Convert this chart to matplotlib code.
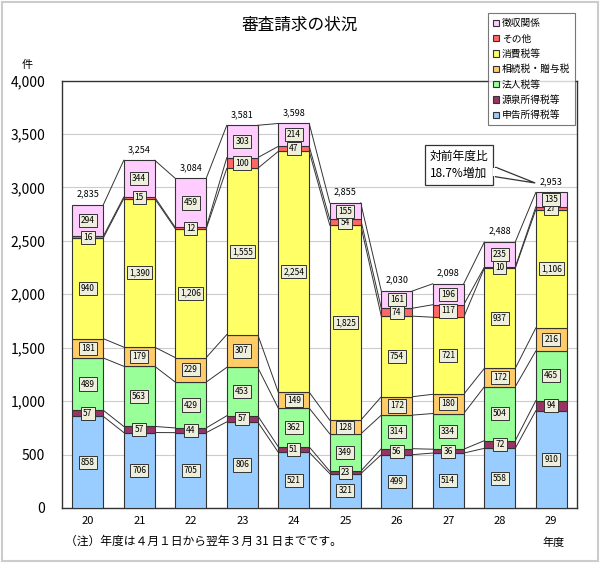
import numpy as np
import matplotlib
matplotlib.use('Agg')
import matplotlib.pyplot as plt
from matplotlib.patches import Rectangle, Polygon

plt.rcParams['font.family'] = ['Noto Sans CJK JP', 'DejaVu Sans']

# データ
years = ['20', '21', '22', '23', '24', '25', '26', '27', '28', '29']
series_names = ['申告所得税等', '源泉所得税等', '法人税等', '相続税・贈与税', '消費税等', 'その他', '徴収関係']
shinkoku = [858, 706, 705, 806, 521, 321, 499, 514, 558, 910]
gensen = [57, 57, 44, 57, 51, 23, 56, 36, 72, 94]
houjin = [489, 563, 429, 453, 362, 349, 314, 334, 504, 465]
souzoku = [181, 179, 229, 307, 149, 128, 172, 180, 172, 216]
shouhi = [940, 1390, 1206, 1555, 2254, 1825, 754, 721, 937, 1106]
sonota = [16, 15, 12, 100, 47, 54, 74, 117, 10, 27]
choushu = [294, 344, 459, 303, 214, 155, 161, 196, 235, 135]
colors = ['#99CCFF', '#993366', '#99FF99', '#FFCC66', '#FFFF66', '#FF6666', '#FFCCFF']

data = np.array([shinkoku, gensen, houjin, souzoku, shouhi, sonota, choushu])
totals = data.sum(axis=0)
cum = np.cumsum(data, axis=0)

fig = plt.figure(figsize=(6, 5.63), dpi=100)
ax = fig.add_axes([0.1033, 0.0977, 0.8584, 0.7593])

x = np.arange(len(years))
w = 0.6
bottom = np.zeros(len(years))
for k in range(len(series_names)):
    ax.bar(x, data[k], w, bottom=bottom, color=colors[k], edgecolor='#333333',
           linewidth=0.8, label=series_names[k], zorder=3)
    for i in range(len(years)):
        ax.text(x[i], bottom[i] + data[k][i] / 2, f'{data[k][i]:,}', ha='center', va='center',
                fontsize=6, zorder=5,
                bbox=dict(boxstyle='square,pad=0.25', fc='#EEEEDD', ec='#333333', lw=0.7))
    bottom = bottom + data[k]

# 区分線
for k in range(len(series_names)):
    for i in range(len(years) - 1):
        ax.plot([x[i] + w / 2, x[i + 1] - w / 2], [cum[k][i], cum[k][i + 1]],
                color='#333333', lw=0.7, zorder=2)

for i in range(len(years)):
    ax.text(x[i], totals[i] + 60, f'{totals[i]:,}', ha='center', va='bottom', fontsize=6.5)

ax.set_xlim(-0.5, len(years) - 0.5)
ax.set_ylim(0, 4000)
ax.set_yticks(np.arange(0, 4001, 500))
ax.set_yticklabels([f'{v:,}' for v in range(0, 4001, 500)], fontsize=10)
ax.set_xticks(x)
ax.set_xticklabels(years, fontsize=8)
ax.tick_params(axis='x', length=0, pad=6)
ax.tick_params(axis='y', length=0, pad=12)
ax.grid(axis='y', color='#CCCCCC', lw=0.8, zorder=0)
for s in ax.spines.values():
    s.set_color('#333333')
    s.set_linewidth(1.0)

# 凡例
handles, labels = ax.get_legend_handles_labels()
leg = fig.legend(handles[::-1], labels[::-1], loc='upper left', bbox_to_anchor=(0.806, 0.985),
                 fontsize=7, frameon=True, fancybox=False, edgecolor='#555555',
                 handlelength=0.6, handleheight=0.6, handletextpad=0.3, labelspacing=0.55,
                 borderpad=0.5)
leg.get_frame().set_linewidth(0.8)

fig.text(0.5, 0.955, '審査請求の状況', ha='center', va='center', fontsize=12)
fig.text(0.045, 0.885, '件', ha='center', va='center', fontsize=8)
fig.text(0.922, 0.035, '年度', ha='center', va='center', fontsize=8)
fig.text(0.108, 0.038, '（注）年度は４月１日から翌年３月 31 日までです。', ha='left', va='center', fontsize=8.5)

# 吹き出し
fig.text(0.765, 0.707, '対前年度比\n18.7%増加', ha='center', va='center', fontsize=8.5,
         linespacing=1.4,
         bbox=dict(boxstyle='square,pad=0.4', fc='white', ec='#333333', lw=0.9))
fig.add_artist(Polygon([[0.826, 0.703], [0.826, 0.686], [0.892, 0.675]], closed=True,
                       transform=fig.transFigure, fc='white', ec='#333333', lw=0.9, zorder=10))
fig.add_artist(Polygon([[0.822, 0.702], [0.822, 0.687], [0.8275, 0.687], [0.8275, 0.702]],
                       closed=True, transform=fig.transFigure, fc='white', ec='none', zorder=11))

fig.add_artist(Rectangle((0.003, 0.003), 0.994, 0.994, transform=fig.transFigure,
                         fill=False, ec='#CCCCCC', lw=1.5))

fig.savefig('out.png', dpi=100)
